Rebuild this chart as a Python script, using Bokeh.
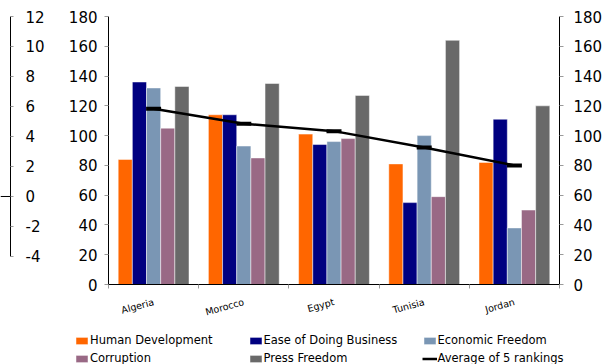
from bokeh.plotting import figure
from bokeh.models import (Range1d, LinearAxis, FixedTicker, CustomJSTickFormatter,
                          Legend, LegendItem, Span, ColumnDataSource)
from bokeh.transform import dodge
from bokeh.layouts import row, column
from bokeh.embed import file_html
from bokeh.resources import INLINE

categories = ["Algeria", "Morocco", "Egypt", "Tunisia", "Jordan"]
human_development = [84, 114, 101, 81, 82]
ease_of_doing_business = [136, 114, 94, 55, 111]
economic_freedom = [132, 93, 96, 100, 38]
corruption = [105, 85, 98, 59, 50]
press_freedom = [133, 135, 127, 164, 120]
average_of_5_rankings = [118, 108, 103, 92, 80]

series_labels = ["Human Development", "Ease of Doing Business", "Economic Freedom",
                 "Corruption", "Press Freedom"]
line_label = "Average of 5 rankings"
primary_ticks = [0, 20, 40, 60, 80, 100, 120, 140, 160, 180]
secondary_ticks = [-4, -2, 0, 2, 4, 6, 8, 10, 12]

FONT = "DejaVu Sans"
colors = ["#FF6600", "#000080", "#7A96B4", "#996985", "#696969"]
TICK_GRAY = "#9a9a9a"

src = ColumnDataSource(dict(
    x=[i + 0.5 for i in range(len(categories))],
    hd=human_development, eodb=ease_of_doing_business, ef=economic_freedom,
    cor=corruption, pf=press_freedom, avg=average_of_5_rankings,
))
cols = ["hd", "eodb", "ef", "cor", "pf"]
bar_kw = dict(line_color="white", line_alpha=0.6, line_width=0.8)
line_kw = dict(line_color="black", line_width=2.5)

TOP_H = 330
FRAME_BOTTOM = 284

# ---------- main figure ----------
p = figure(width=550, height=TOP_H, x_range=Range1d(0, 5), y_range=Range1d(0, 180),
           output_backend="svg", toolbar_location=None,
           min_border_left=53, min_border_right=43, min_border_top=16,
           min_border_bottom=TOP_H - FRAME_BOTTOM, outline_line_color=None)
p.xgrid.visible = False
p.ygrid.visible = False

def style_y(ax, standoff):
    ax.ticker = FixedTicker(ticks=primary_ticks)
    ax.axis_line_color = "black"
    ax.major_tick_out = 4
    ax.major_tick_in = 0
    ax.major_tick_line_color = TICK_GRAY
    ax.minor_tick_line_color = None
    ax.major_label_text_font = FONT
    ax.major_label_text_font_size = "15px"
    ax.major_label_text_color = "black"
    ax.major_label_standoff = standoff

style_y(p.yaxis[0], 7)
right_axis = LinearAxis()
style_y(right_axis, 10)
p.add_layout(right_axis, "right")

xa = p.xaxis[0]
xa.ticker = FixedTicker(ticks=[i + 0.5 for i in range(len(categories))],
                        minor_ticks=list(range(len(categories) + 1)))
xa.formatter = CustomJSTickFormatter(args=dict(names=categories),
                                     code="return names[Math.floor(tick)];")
xa.axis_line_color = "black"
xa.major_tick_line_color = None
xa.major_tick_out = 0
xa.major_tick_in = 0
xa.minor_tick_out = 4
xa.minor_tick_in = 0
xa.minor_tick_line_color = TICK_GRAY
xa.major_label_orientation = 0.27
xa.major_label_text_font = FONT
xa.major_label_text_font_size = "9.5px"
xa.major_label_text_color = "black"
xa.major_label_standoff = 13

w = 0.157
for j, (c, col) in enumerate(zip(colors, cols)):
    p.vbar(x=dodge("x", (j - 2) * w, range=p.x_range), top=col, width=w, source=src,
           fill_color=c, **bar_kw)

p.line("x", "avg", source=src, **line_kw)
p.scatter("x", "avg", source=src, marker="dash", size=15, line_width=4, line_color="black")

# ---------- small secondary-axis figure ----------
s = figure(width=55, height=TOP_H, x_range=Range1d(0, 1), y_range=Range1d(-5.867, 12),
           y_axis_location="right", x_axis_location=None, toolbar_location=None,
           output_backend="svg", min_border_left=0, min_border_right=45,
           min_border_top=16, min_border_bottom=TOP_H - FRAME_BOTTOM,
           outline_line_color=None)
s.xgrid.visible = False
s.ygrid.visible = False
sa = s.yaxis[0]
sa.ticker = FixedTicker(ticks=secondary_ticks)
sa.formatter = CustomJSTickFormatter(code="return tick.toString();")
sa.bounds = (secondary_ticks[0], secondary_ticks[-1])
sa.axis_line_color = "black"
sa.major_tick_out = 3
sa.major_tick_in = 0
sa.major_tick_line_color = TICK_GRAY
sa.minor_tick_line_color = None
sa.major_label_text_font = FONT
sa.major_label_text_font_size = "15px"
sa.major_label_text_color = "black"
sa.major_label_standoff = 12
s.add_layout(Span(location=0, dimension="width", line_color="black", line_width=1))

# ---------- legend strip ----------
LEG_H = 364 - TOP_H
lg = figure(width=605, height=LEG_H, x_range=Range1d(0, 5), y_range=Range1d(0, 180),
            x_axis_location=None, y_axis_location=None, toolbar_location=None,
            output_backend="svg", min_border=0, outline_line_color=None)
lg.xgrid.visible = False
lg.ygrid.visible = False
leg_bars = []
for j, (c, col) in enumerate(zip(colors, cols)):
    r = lg.vbar(x="x", top=col, width=w, source=src, fill_color=c, visible=False, **bar_kw)
    leg_bars.append(r)
leg_line = lg.line("x", "avg", source=src, visible=False, **line_kw)

def make_legend(pairs, vx):
    leg = Legend(items=[LegendItem(label=l, renderers=[r]) for l, r in pairs],
                 location=(vx, -1), orientation="vertical",
                 padding=0, spacing=4, margin=0, label_height=14, glyph_height=9,
                 glyph_width=15, label_standoff=1, border_line_color=None,
                 background_fill_alpha=0, label_text_font=FONT,
                 label_text_font_size="11.5px", label_text_color="black")
    lg.add_layout(leg)

make_legend([(series_labels[0], leg_bars[0]), (series_labels[3], leg_bars[3])], 74)
make_legend([(series_labels[1], leg_bars[1]), (series_labels[4], leg_bars[4])], 247.5)
make_legend([(series_labels[2], leg_bars[2]), (line_label, leg_line)], 421.5)

layout = column(row(s, p), lg)
open("out.html", "w").write(file_html(layout, INLINE))
